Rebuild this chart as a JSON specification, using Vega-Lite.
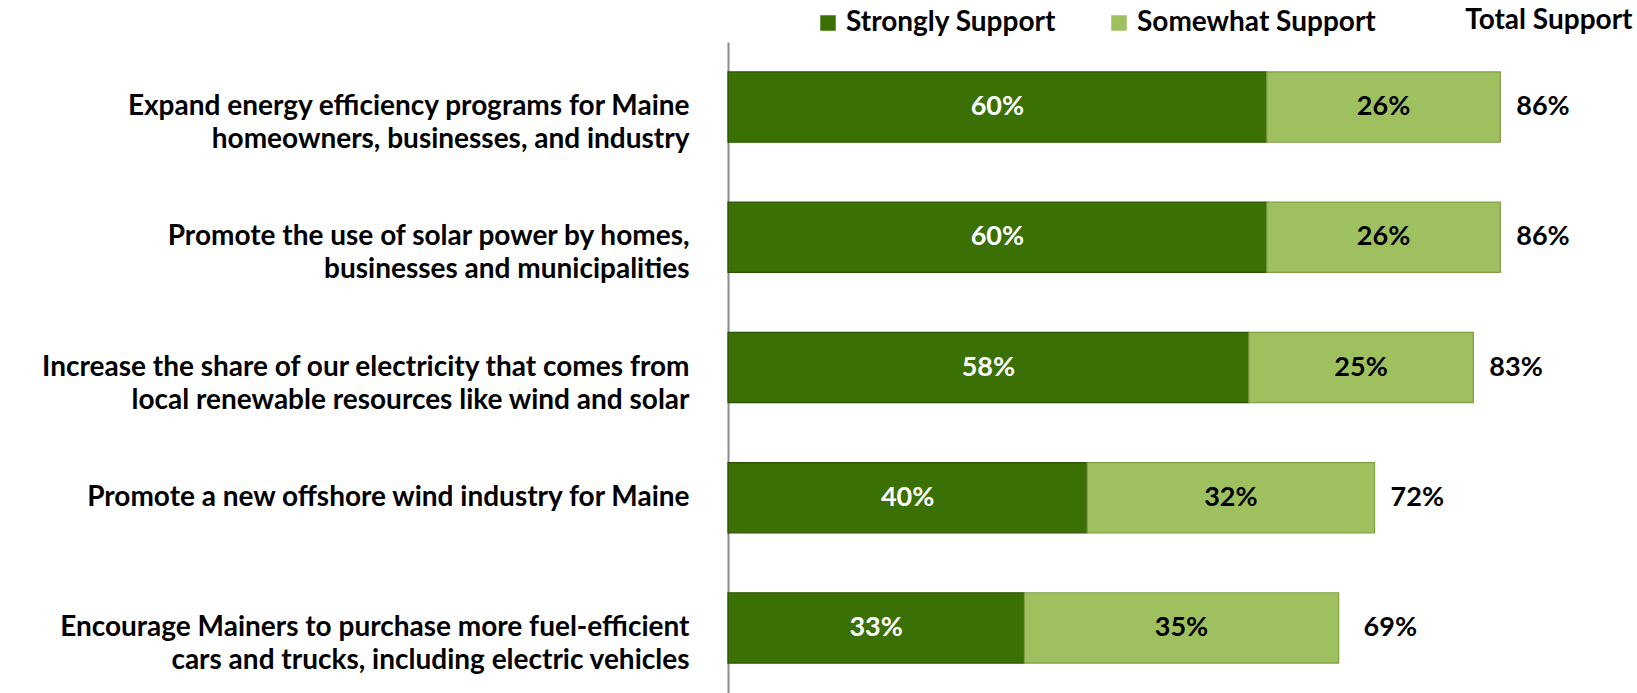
{
  "$schema": "https://vega.github.io/schema/vega-lite/v6.json",
  "width": 898,
  "height": 651,
  "autosize": {"type": "none"},
  "padding": {"left": 728, "top": 42, "right": 11, "bottom": 0},
  "background": "white",
  "config": {
    "view": {"stroke": null},
    "font": "Lato",
    "text": {"font": "Lato"}
  },
  "datasets": {
    "bars": [
      {"item": "Expand energy efficiency programs for Maine|homeowners, businesses, and industry", "type": "Strongly Support", "o": 1, "value": 60},
      {"item": "Expand energy efficiency programs for Maine|homeowners, businesses, and industry", "type": "Somewhat Support", "o": 2, "value": 26},
      {"item": "Promote the use of solar power by homes,|businesses and municipalities", "type": "Strongly Support", "o": 1, "value": 60},
      {"item": "Promote the use of solar power by homes,|businesses and municipalities", "type": "Somewhat Support", "o": 2, "value": 26},
      {"item": "Increase the share of our electricity that comes from|local renewable resources like wind and solar", "type": "Strongly Support", "o": 1, "value": 58},
      {"item": "Increase the share of our electricity that comes from|local renewable resources like wind and solar", "type": "Somewhat Support", "o": 2, "value": 25},
      {"item": "Promote a new offshore wind industry for Maine", "type": "Strongly Support", "o": 1, "value": 40},
      {"item": "Promote a new offshore wind industry for Maine", "type": "Somewhat Support", "o": 2, "value": 32},
      {"item": "Encourage Mainers to purchase more fuel-efficient|cars and trucks, including electric vehicles", "type": "Strongly Support", "o": 1, "value": 33},
      {"item": "Encourage Mainers to purchase more fuel-efficient|cars and trucks, including electric vehicles", "type": "Somewhat Support", "o": 2, "value": 35}
    ],
    "totals": [
      {"item": "Expand energy efficiency programs for Maine|homeowners, businesses, and industry", "total": 86},
      {"item": "Promote the use of solar power by homes,|businesses and municipalities", "total": 86},
      {"item": "Increase the share of our electricity that comes from|local renewable resources like wind and solar", "total": 83},
      {"item": "Promote a new offshore wind industry for Maine", "total": 72},
      {"item": "Encourage Mainers to purchase more fuel-efficient|cars and trucks, including electric vehicles", "total": 69}
    ]
  },
  "encoding": {
    "y": {
      "field": "item",
      "type": "nominal",
      "sort": [
        "Expand energy efficiency programs for Maine|homeowners, businesses, and industry",
        "Promote the use of solar power by homes,|businesses and municipalities",
        "Increase the share of our electricity that comes from|local renewable resources like wind and solar",
        "Promote a new offshore wind industry for Maine",
        "Encourage Mainers to purchase more fuel-efficient|cars and trucks, including electric vehicles"
      ],
      "scale": {"paddingInner": 0.46, "paddingOuter": 0.23},
      "axis": {
        "title": null,
        "ticks": false,
        "domain": true,
        "domainColor": "#8c8c8c",
        "domainWidth": 2,
        "labelExpr": "split(datum.value, '|')",
        "labelFont": "Lato",
        "labelFontSize": 28,
        "labelFontWeight": "bold",
        "labelColor": "#000000",
        "labelLineHeight": 33,
        "labelPadding": 39,
        "labelLimit": 0,
        "labelAlign": "right",
        "labelBaseline": "middle"
      }
    }
  },
  "layer": [
    {
      "data": {"name": "bars"},
      "mark": {"type": "bar", "strokeWidth": 1.2},
      "encoding": {
        "x": {
          "field": "value",
          "type": "quantitative",
          "stack": "zero",
          "scale": {"domain": [0, 100], "nice": false},
          "axis": {
            "orient": "top",
            "domain": false,
            "ticks": false,
            "labels": false,
            "grid": false,
            "title": "Total Support",
            "titleFont": "Lato",
            "titleFontSize": 28,
            "titleFontWeight": "bold",
            "titleColor": "#000000",
            "titleAnchor": "end",
            "titleAlign": "right",
            "titleBaseline": "middle",
            "titleX": 904,
            "titleY": -22
          }
        },
        "order": {"field": "o", "type": "quantitative"},
        "color": {
          "field": "type",
          "type": "nominal",
          "scale": {"domain": ["Strongly Support", "Somewhat Support"], "range": ["#3b7004", "#9fc05e"]},
          "legend": {
            "title": null,
            "orient": "none",
            "direction": "horizontal",
            "legendX": 86,
            "legendY": -33,
            "symbolType": "square",
            "symbolSize": 240,
            "symbolStrokeWidth": 0,
            "labelFont": "Lato",
            "labelFontSize": 28,
            "labelFontWeight": "bold",
            "labelColor": "#000000",
            "labelOffset": 4,
            "columnPadding": 48,
            "labelLimit": 0
          }
        },
        "stroke": {
          "field": "type",
          "type": "nominal",
          "scale": {"domain": ["Strongly Support", "Somewhat Support"], "range": ["#2a5203", "#7f9e45"]},
          "legend": null
        }
      }
    },
    {
      "data": {"name": "bars"},
      "transform": [
        {"stack": "value", "groupby": ["item"], "sort": [{"field": "o"}], "as": ["x0", "x1"]},
        {"calculate": "(datum.x0 + datum.x1) / 2", "as": "mid"},
        {"calculate": "datum.value + '%'", "as": "lbl"}
      ],
      "mark": {"type": "text", "font": "Lato", "fontSize": 27, "fontWeight": "bold", "baseline": "middle", "align": "center"},
      "encoding": {
        "x": {"field": "mid", "type": "quantitative"},
        "text": {"field": "lbl", "type": "nominal"},
        "color": {"condition": {"test": "datum.type === 'Strongly Support'", "value": "#ffffff"}, "value": "#000000"}
      }
    },
    {
      "data": {"name": "totals"},
      "transform": [
        {"calculate": "datum.total + '%'", "as": "lbl"}
      ],
      "mark": {"type": "text", "font": "Lato", "fontSize": 27, "fontWeight": "bold", "baseline": "middle", "align": "left", "dx": 16, "color": "#000000"},
      "encoding": {
        "x": {"field": "total", "type": "quantitative"},
        "text": {"field": "lbl", "type": "nominal"}
      }
    }
  ]
}
